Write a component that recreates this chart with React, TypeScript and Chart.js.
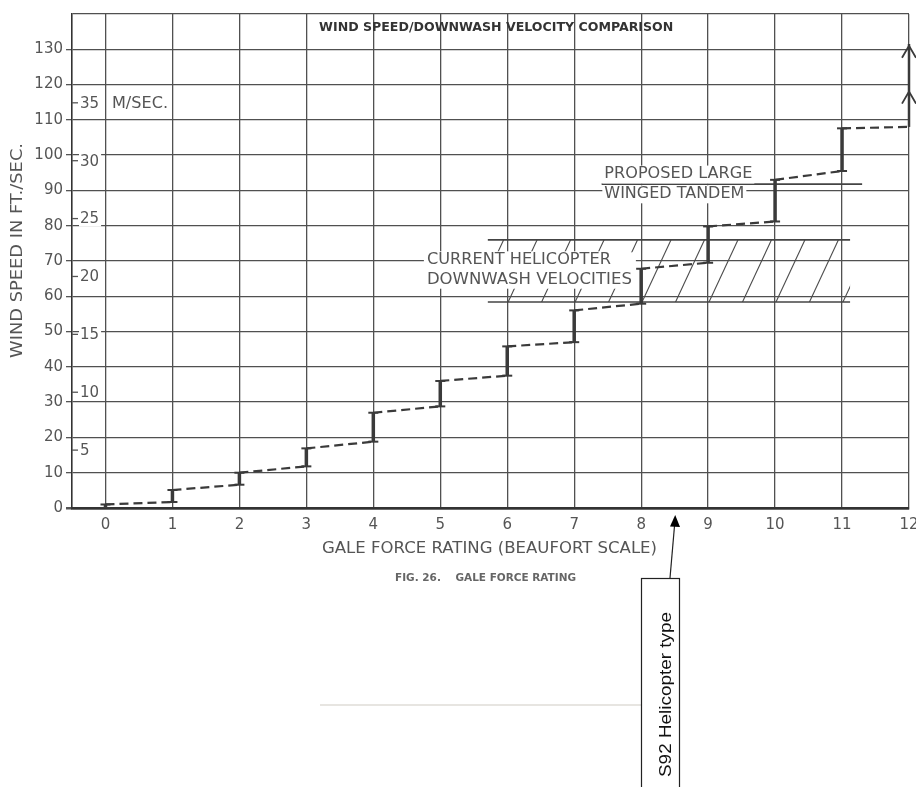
import React, { useEffect, useRef } from "react";
import { Chart, registerables } from "chart.js";

Chart.register(...registerables);

// ---- Data ----
const beaufort = [0, 1, 2, 3, 4, 5, 6, 7, 8, 9, 10, 11, 12];
const lowFtSec = [0, 1.7, 6.6, 11.8, 18.8, 28.8, 37.5, 47, 57.9, 69.5, 81.2, 95.5, 108];
const highFtSec = [1, 5.1, 10, 16.9, 27, 36, 45.8, 56, 67.8, 79.8, 93, 107.6, null];
const xTickValues = [0, 1, 2, 3, 4, 5, 6, 7, 8, 9, 10, 11, 12];
const yTickValues = [0, 10, 20, 30, 40, 50, 60, 70, 80, 90, 100, 110, 120, 130, 140];
const msTickValues = [5, 10, 15, 20, 25, 30, 35];
const FT_PER_M = 3.28084;
const currentBandFt = [58.4, 76];
const currentBandX = [5.71, 11.12];
const hatchStartX = [5.5, 6, 6.5, 7, 7.5, 8, 8.5, 9, 9.5, 10, 10.5, 11];
const proposedFt = [91.8];
const proposedX = [7.41, 11.3];
const arrowRangeFt = [108, 131.5];
const chevronFt = [131, 118];

const TEXT_GREY = "#555555";
const GRID = "#505050";
const INK = "#3a3a3a";

function fitText(
  ctx: CanvasRenderingContext2D,
  text: string,
  x: number,
  y: number,
  width: number,
  font: string,
  color: string
) {
  ctx.save();
  ctx.font = font;
  ctx.fillStyle = color;
  ctx.textAlign = "left";
  ctx.textBaseline = "middle";
  const w = ctx.measureText(text).width;
  ctx.translate(x, y);
  ctx.scale(width / w, 1);
  ctx.fillText(text, 0, 0);
  ctx.restore();
}

const annotationPlugin = {
  id: "annotations",
  beforeDatasetsDraw(chart: any) {
    const { ctx, chartArea } = chart;
    const x = chart.scales.x;
    const y = chart.scales.y;
    ctx.save();

    // inner m/sec scale
    ctx.strokeStyle = TEXT_GREY;
    ctx.lineWidth = 1.3;
    msTickValues.forEach((ms) => {
      const py = y.getPixelForValue(ms * FT_PER_M);
      ctx.beginPath();
      ctx.moveTo(chartArea.left, py);
      ctx.lineTo(chartArea.left + 6, py);
      ctx.stroke();
      ctx.font = '15px "DejaVu Sans"';
      ctx.fillStyle = "#fff";
      const label = String(ms);
      const lw = ctx.measureText(label).width;
      ctx.fillRect(chartArea.left + 7, py - 8, lw + 3, 16);
      ctx.fillStyle = TEXT_GREY;
      ctx.textBaseline = "middle";
      ctx.textAlign = "left";
      ctx.fillText(label, chartArea.left + 8, py + 1);
      if (ms === 35) {
        fitText(ctx, "M/SEC.", chartArea.left + 40, py + 1, 56, '15px "DejaVu Sans"', TEXT_GREY);
      }
    });

    // hatched band (current helicopter downwash)
    const bx0 = x.getPixelForValue(currentBandX[0]);
    const bx1 = x.getPixelForValue(currentBandX[1]);
    const byLow = y.getPixelForValue(currentBandFt[0]);
    const byHigh = y.getPixelForValue(currentBandFt[1]);
    ctx.save();
    ctx.beginPath();
    ctx.rect(bx0, byHigh, bx1 - bx0, byLow - byHigh);
    ctx.clip();
    ctx.strokeStyle = "#4a4a4a";
    ctx.lineWidth = 1.1;
    hatchStartX.forEach((hx) => {
      ctx.beginPath();
      ctx.moveTo(x.getPixelForValue(hx), byLow + 2);
      ctx.lineTo(x.getPixelForValue(hx + 0.46), byHigh - 2);
      ctx.stroke();
    });
    ctx.restore();
    ctx.strokeStyle = "#444";
    ctx.lineWidth = 1.6;
    [byLow, byHigh].forEach((py) => {
      ctx.beginPath();
      ctx.moveTo(bx0, py);
      ctx.lineTo(bx1, py);
      ctx.stroke();
    });

    // proposed large winged tandem line
    const py = y.getPixelForValue(proposedFt[0]);
    ctx.beginPath();
    ctx.moveTo(x.getPixelForValue(proposedX[0]), py);
    ctx.lineTo(x.getPixelForValue(proposedX[1]), py);
    ctx.stroke();

    // labelled text with white backgrounds
    const boxedText = (text: string, xv: number, yv: number, width: number) => {
      const px = x.getPixelForValue(xv);
      const pyy = y.getPixelForValue(yv);
      ctx.fillStyle = "#fff";
      ctx.fillRect(px - 2, pyy - 9, width + 4, 18);
      fitText(ctx, text, px, pyy, width, '15px "DejaVu Sans"', TEXT_GREY);
    };
    // white block behind the two-line label
    {
      const px = x.getPixelForValue(4.8);
      const top = y.getPixelForValue(70.2) - 8;
      const bottom = y.getPixelForValue(64.7) + 8;
      ctx.fillStyle = "#fff";
      ctx.fillRect(px - 3, top, 212, bottom - top);
    }
    boxedText("CURRENT HELICOPTER", 4.8, 70.2, 184);
    boxedText("DOWNWASH VELOCITIES", 4.8, 64.7, 205);
    boxedText("PROPOSED LARGE", 7.45, 94.5, 148);
    boxedText("WINGED TANDEM", 7.45, 88.9, 140);

    // chart title inside the grid
    {
      const px0 = x.getPixelForValue(3.19);
      const px1 = x.getPixelForValue(8.48);
      fitText(
        ctx,
        "WIND SPEED/DOWNWASH VELOCITY COMPARISON",
        px0,
        y.getPixelForValue(136),
        px1 - px0,
        'bold 13px "DejaVu Sans Condensed", "DejaVu Sans"',
        "#333"
      );
    }
    ctx.restore();
  },
  afterDatasetsDraw(chart: any) {
    const { ctx } = chart;
    const x = chart.scales.x;
    const y = chart.scales.y;
    const px = x.getPixelForValue(beaufort[beaufort.length - 1]);
    ctx.save();
    ctx.strokeStyle = INK;
    ctx.lineWidth = 2.5;
    ctx.beginPath();
    ctx.moveTo(px, y.getPixelForValue(arrowRangeFt[0]));
    ctx.lineTo(px, y.getPixelForValue(arrowRangeFt[1]));
    ctx.stroke();
    ctx.lineWidth = 1.8;
    chevronFt.forEach((v) => {
      const py = y.getPixelForValue(v);
      ctx.beginPath();
      ctx.moveTo(px - 7, py + 12);
      ctx.lineTo(px, py);
      ctx.lineTo(px + 7, py + 12);
      ctx.stroke();
    });
    ctx.restore();
  },
  afterDraw(chart: any) {
    const { ctx, chartArea } = chart;
    ctx.save();
    // y axis title
    ctx.save();
    ctx.translate(18, 358);
    ctx.rotate(-Math.PI / 2);
    fitText(ctx, "WIND SPEED IN FT./SEC.", 0, 0, 215, '15px "DejaVu Sans"', TEXT_GREY);
    ctx.restore();
    // x axis title
    fitText(ctx, "GALE FORCE RATING (BEAUFORT SCALE)", 322, 549, 335, '15px "DejaVu Sans"', TEXT_GREY);
    // figure caption
    fitText(ctx, "FIG. 26.    GALE FORCE RATING", 395, 578, 181, 'bold 10px "DejaVu Sans Condensed", "DejaVu Sans"', "#666");

    // faint rule
    ctx.strokeStyle = "#cfccc4";
    ctx.lineWidth = 1.2;
    ctx.beginPath();
    ctx.moveTo(320, 705);
    ctx.lineTo(641, 705);
    ctx.stroke();

    // S92 box with arrow
    ctx.strokeStyle = "#222";
    ctx.lineWidth = 1.2;
    ctx.strokeRect(641.5, 578.5, 38, 220);
    ctx.beginPath();
    ctx.moveTo(670, 578);
    ctx.lineTo(674.5, 526);
    ctx.stroke();
    ctx.fillStyle = "#000";
    ctx.beginPath();
    ctx.moveTo(675.2, 515);
    ctx.lineTo(680, 527);
    ctx.lineTo(670, 526.5);
    ctx.closePath();
    ctx.fill();
    ctx.save();
    ctx.translate(667, 777);
    ctx.rotate(-Math.PI / 2);
    fitText(ctx, "S92 Helicopter type", 0, 0, 165, '16px "Liberation Sans", Arial', "#111");
    ctx.restore();
    ctx.restore();
  },
};

export default function App() {
  const canvasRef = useRef<HTMLCanvasElement | null>(null);

  useEffect(() => {
    if (!canvasRef.current) return;

    const dashedPts: any[] = [];
    const barPts: any[] = [];
    for (let i = 0; i < beaufort.length; i++) {
      if (highFtSec[i] !== null) {
        barPts.push({ x: beaufort[i], y: lowFtSec[i] });
        barPts.push({ x: beaufort[i], y: highFtSec[i] });
        barPts.push({ x: beaufort[i], y: null });
      }
      if (i < beaufort.length - 1 && highFtSec[i] !== null) {
        dashedPts.push({ x: beaufort[i], y: highFtSec[i] });
        dashedPts.push({ x: beaufort[i + 1], y: lowFtSec[i + 1] });
        dashedPts.push({ x: beaufort[i + 1], y: null });
      }
    }

    const chart = new Chart(canvasRef.current, {
      type: "line",
      data: {
        datasets: [
          {
            data: dashedPts,
            borderColor: INK,
            borderWidth: 2.2,
            borderDash: [9, 5],
            pointRadius: 0,
            spanGaps: false,
            fill: false,
            tension: 0,
          },
          {
            data: barPts,
            borderColor: INK,
            borderWidth: 3.5,
            borderCapStyle: "butt",
            pointStyle: "line",
            pointRadius: 5,
            pointBorderWidth: 2,
            pointBorderColor: INK,
            pointBackgroundColor: INK,
            spanGaps: false,
            fill: false,
            tension: 0,
          },
        ] as any,
      },
      options: {
        animation: false,
        responsive: false,
        devicePixelRatio: 1,
        layout: { padding: { left: 0, right: 4, top: 14, bottom: 0 } },
        plugins: { legend: { display: false }, tooltip: { enabled: false } },
        scales: {
          x: {
            type: "linear",
            min: -0.5,
            max: 12,
            afterBuildTicks: (s: any) => {
              s.ticks = xTickValues.map((v) => ({ value: v }));
            },
            ticks: {
              color: TEXT_GREY,
              font: { family: "DejaVu Sans", size: 15 },
              padding: 8,
              maxRotation: 0,
              autoSkip: false,
            },
            grid: { color: GRID, lineWidth: 1.3, drawTicks: false },
            border: { color: "#333", width: 2.5 },
            afterFit: (s: any) => {
              s.height = 279;
              s.paddingLeft = 0;
              s.paddingRight = 0;
            },
          } as any,
          y: {
            type: "linear",
            min: 0,
            max: 140,
            afterBuildTicks: (s: any) => {
              s.ticks = yTickValues.map((v) => ({ value: v }));
            },
            ticks: {
              color: TEXT_GREY,
              font: { family: "DejaVu Sans", size: 15 },
              padding: 3,
              callback: (v: any) => (v === 140 ? "" : String(v)),
            },
            grid: {
              color: GRID,
              lineWidth: (c: any) => (c.tick && c.tick.value === 0 ? 2.5 : 1.3),
              tickLength: 6,
              tickColor: (c: any) => (c.tick && c.tick.value === 140 ? "rgba(0,0,0,0)" : TEXT_GREY),
            },
            border: { color: "#333", width: 1.6 },
            afterFit: (s: any) => {
              s.width = 72;
              s.paddingTop = 0;
              s.paddingBottom = 0;
            },
          } as any,
        },
      },
      plugins: [annotationPlugin],
    });

    return () => chart.destroy();
  }, []);

  return (
    <div style={{ position: "fixed", left: 0, top: 0, width: 916, height: 787, background: "#fff" }}>
      <canvas ref={canvasRef} width={916} height={787} style={{ display: "block", width: 916, height: 787 }} />
    </div>
  );
}
